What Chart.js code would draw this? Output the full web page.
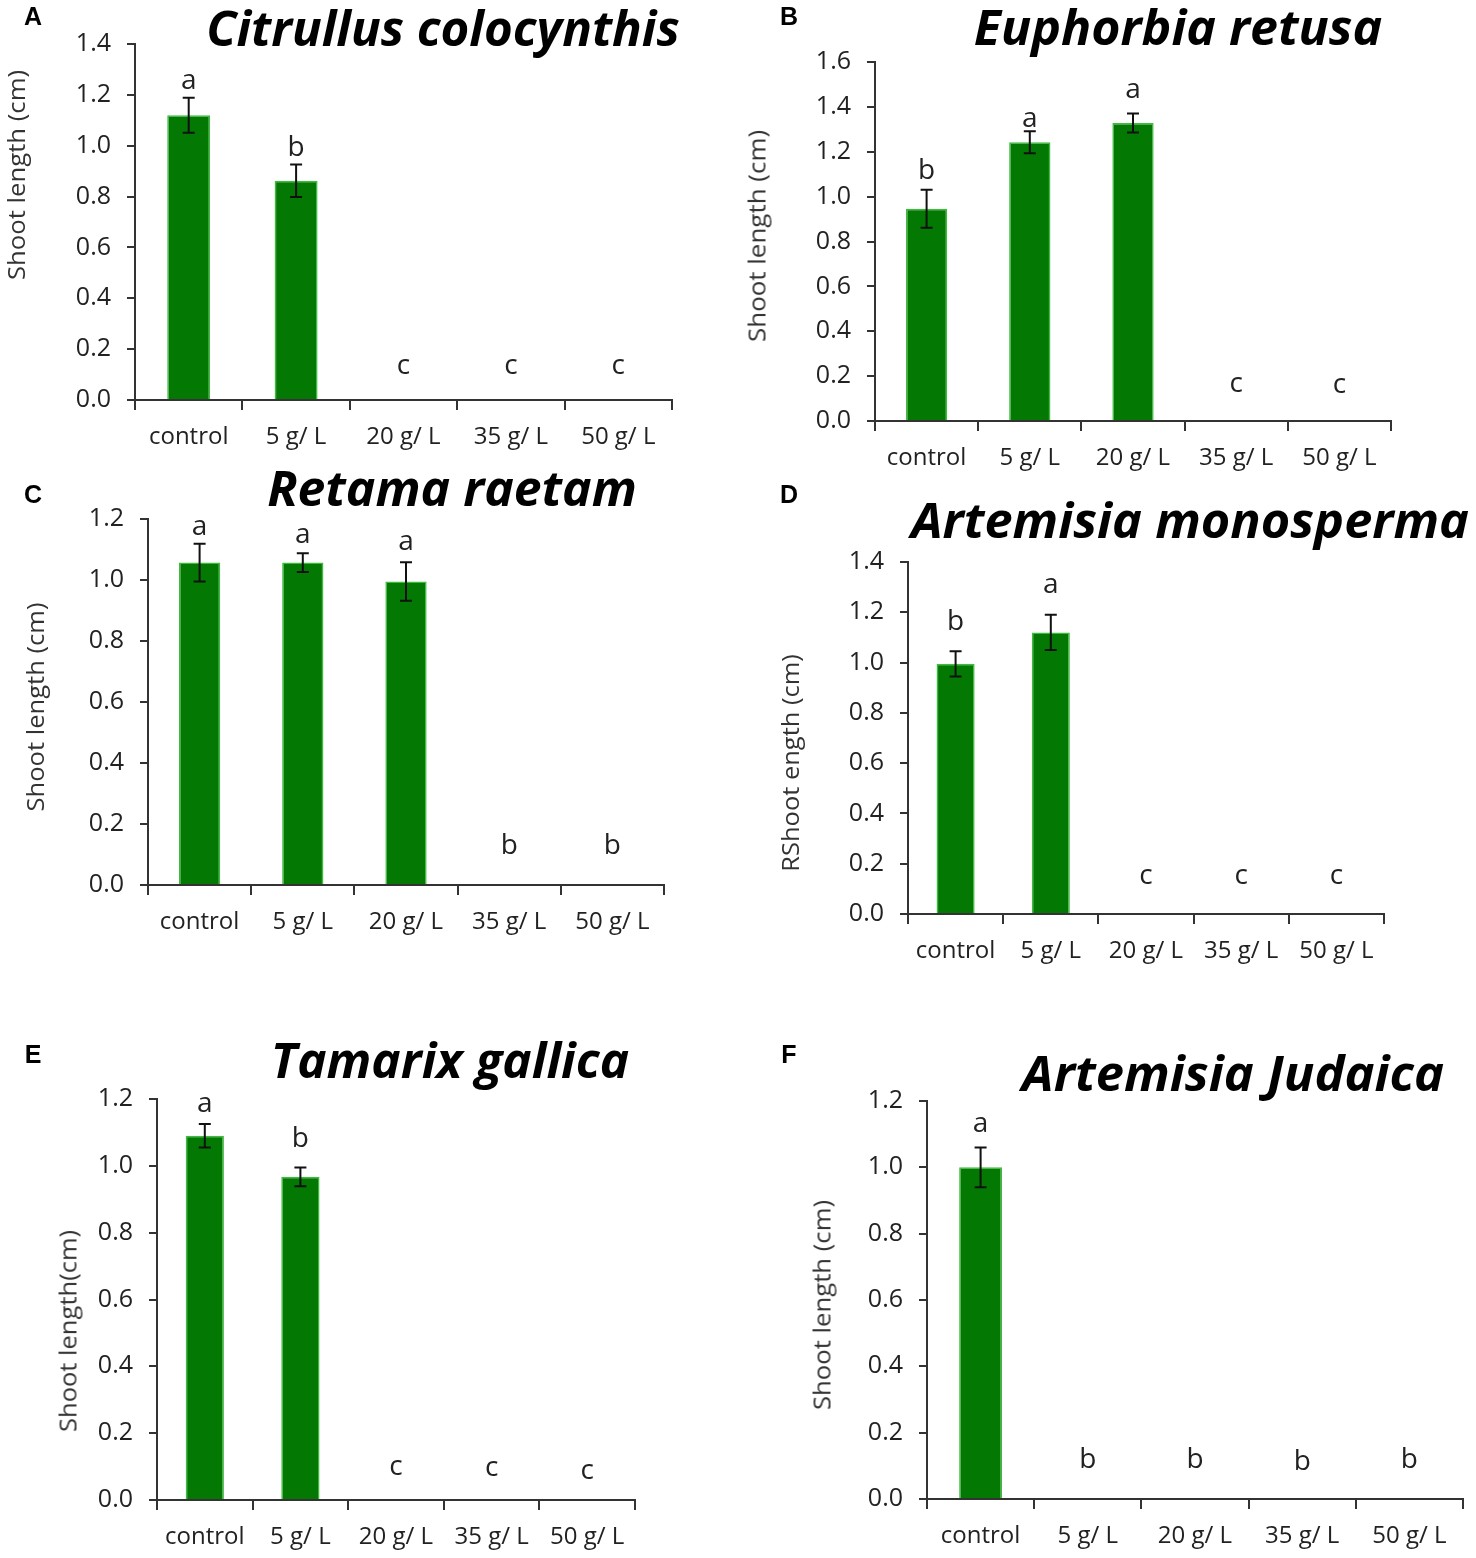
<!DOCTYPE html>
<html>
<head>
<meta charset="utf-8">
<script src="https://cdn.jsdelivr.net/npm/chart.js@4.4.1/dist/chart.umd.min.js"></script>
<style>
  body { margin: 0; background: #fff; }
  #page { position: relative; width: 1476px; height: 1558px; overflow: hidden; }
  .box { position: absolute; }
  .tag { position: absolute; font: bold 25px "Liberation Sans", Arial, sans-serif; color: #000; transform: translate(-50%, -50%); line-height: 1; }
  .species { position: absolute; font: italic 700 48px "Open Sans", "Noto Sans", sans-serif; color: #000; white-space: nowrap; line-height: 1; }
  .ytitle { position: absolute; font: 23px "Open Sans", sans-serif; color: #333; white-space: nowrap; line-height: 1; }
</style>
</head>
<body>
<div id="page"></div>
<script>
// Categories (salt concentrations)
const categories = ['control', '5 g/ L', '20 g/ L', '35 g/ L', '50 g/ L'];

// Mean shoot length (cm) and error bars, per species
const citrullusValues = [1.12, 0.862, 0, 0, 0];
const citrullusErrors = [0.069, 0.064, 0, 0, 0];
const citrullusLetters = ['a', 'b', 'c', 'c', 'c'];
const citrullusLetterY = [1.255, 0.99, 0.134, 0.134, 0.134];

const euphorbiaValues = [0.946, 1.242, 1.328, 0, 0];
const euphorbiaErrors = [0.085, 0.049, 0.042, 0, 0];
const euphorbiaLetters = ['b', 'a', 'a', 'c', 'c'];
const euphorbiaLetterY = [1.114, 1.346, 1.475, 0.165, 0.16];

const retamaValues = [1.057, 1.057, 0.995, 0, 0];
const retamaErrors = [0.062, 0.031, 0.063, 0, 0];
const retamaLetters = ['a', 'a', 'a', 'b', 'b'];
const retamaLetterY = [1.174, 1.148, 1.125, 0.128, 0.128];

const monospermaValues = [0.995, 1.12, 0, 0, 0];
const monospermaErrors = [0.05, 0.07, 0, 0, 0];
const monospermaLetters = ['b', 'a', 'c', 'c', 'c'];
const monospermaLetterY = [1.161, 1.309, 0.151, 0.151, 0.151];

const tamarixValues = [1.09, 0.967, 0, 0, 0];
const tamarixErrors = [0.035, 0.028, 0, 0, 0];
const tamarixLetters = ['a', 'b', 'c', 'c', 'c'];
const tamarixLetterY = [1.186, 1.081, 0.099, 0.095, 0.086];

const judaicaValues = [1.0, 0, 0, 0, 0];
const judaicaErrors = [0.06, 0, 0, 0, 0];
const judaicaLetters = ['a', 'b', 'b', 'b', 'b'];
const judaicaLetterY = [1.13, 0.118, 0.118, 0.112, 0.118];

const yMaxima = [1.4, 1.6, 1.2, 1.4, 1.2, 1.2];

// Layout of each panel on the page
const panels = [
  { tag: 'A', name: 'Citrullus colocynthis', yTitle: 'Shoot length (cm)',
    values: citrullusValues, errors: citrullusErrors, letters: citrullusLetters, letterY: citrullusLetterY, max: yMaxima[0],
    box: [0, 0, 738, 470], axisX: 135, x1: 672, yTop: 44, yBottom: 400,
    tagPos: [33, 16], titlePos: [443, 28], titleW: 473, yTitlePos: [16, 175], yTitleW: 210 },
  { tag: 'B', name: 'Euphorbia retusa', yTitle: 'Shoot length (cm)',
    values: euphorbiaValues, errors: euphorbiaErrors, letters: euphorbiaLetters, letterY: euphorbiaLetterY, max: yMaxima[1],
    box: [738, 0, 738, 480], axisX: 875, x1: 1391, yTop: 62, yBottom: 421,
    tagPos: [789, 16], titlePos: [1178, 27], titleW: 409, yTitlePos: [757, 236], yTitleW: 212 },
  { tag: 'C', name: 'Retama raetam', yTitle: 'Shoot length (cm)',
    values: retamaValues, errors: retamaErrors, letters: retamaLetters, letterY: retamaLetterY, max: yMaxima[2],
    box: [0, 470, 738, 510], axisX: 148, x1: 664, yTop: 519, yBottom: 885,
    tagPos: [33, 494], titlePos: [452, 488], titleW: 370, yTitlePos: [35, 707], yTitleW: 209 },
  { tag: 'D', name: 'Artemisia monosperma', yTitle: 'RShoot ength (cm)',
    values: monospermaValues, errors: monospermaErrors, letters: monospermaLetters, letterY: monospermaLetterY, max: yMaxima[3],
    box: [738, 480, 738, 500], axisX: 908, x1: 1384, yTop: 562, yBottom: 914,
    tagPos: [789, 494], titlePos: [1190, 520], titleW: 558, yTitlePos: [790, 763], yTitleW: 217 },
  { tag: 'E', name: 'Tamarix gallica', yTitle: 'Shoot length(cm)',
    values: tamarixValues, errors: tamarixErrors, letters: tamarixLetters, letterY: tamarixLetterY, max: yMaxima[4],
    box: [0, 1000, 738, 558], axisX: 157, x1: 635, yTop: 1099, yBottom: 1500,
    tagPos: [33, 1054], titlePos: [450, 1060], titleW: 358, yTitlePos: [68, 1331], yTitleW: 202 },
  { tag: 'F', name: 'Artemisia Judaica', yTitle: 'Shoot length (cm)',
    values: judaicaValues, errors: judaicaErrors, letters: judaicaLetters, letterY: judaicaLetterY, max: yMaxima[5],
    box: [738, 1000, 738, 558], axisX: 927, x1: 1463, yTop: 1101, yBottom: 1499,
    tagPos: [789, 1054], titlePos: [1233, 1073], titleW: 422, yTitlePos: [822, 1305], yTitleW: 210 }
];

const axisColor = '#333';
const xTickFont = { family: 'Open Sans', size: 24 };
const yTickFont = { family: 'Open Sans', size: 25 };

// Error bars drawn from the scales
const errorBarPlugin = {
  id: 'errorBars',
  afterDatasetsDraw(chart, args, opts) {
    const { ctx, scales: { x, y } } = chart;
    const vals = chart.data.datasets[0].data;
    ctx.save();
    ctx.strokeStyle = '#111';
    ctx.lineWidth = 2;
    vals.forEach((v, i) => {
      const e = opts.errors[i];
      if (!e) return;
      const px = x.getPixelForValue(i);
      const top = y.getPixelForValue(v + e);
      const bot = y.getPixelForValue(v - e);
      ctx.beginPath();
      ctx.moveTo(px, top); ctx.lineTo(px, bot);
      ctx.moveTo(px - 6, top); ctx.lineTo(px + 6, top);
      ctx.moveTo(px - 6, bot); ctx.lineTo(px + 6, bot);
      ctx.stroke();
    });
    ctx.restore();
  }
};

// Significance letters above the bars
const letterPlugin = {
  id: 'sigLetters',
  afterDraw(chart, args, opts) {
    const { ctx, scales: { x, y } } = chart;
    ctx.save();
    ctx.fillStyle = '#222';
    ctx.font = '28px "Open Sans", sans-serif';
    ctx.textAlign = 'center';
    ctx.textBaseline = 'middle';
    opts.letters.forEach((l, i) => {
      ctx.fillText(l, x.getPixelForValue(i), y.getPixelForValue(opts.letterY[i]));
    });
    ctx.restore();
  }
};

function fitText(el, target, rotate) {
  const w = el.offsetWidth;
  const s = target / w;
  el.style.transform = 'translate(-50%, -50%)' + (rotate ? ' rotate(-90deg)' : '') + ' scaleX(' + s + ')';
}

const page = document.getElementById('page');

panels.forEach(p => {
  const [L, T, W, H] = p.box;
  const box = document.createElement('div');
  box.className = 'box';
  box.style.left = L + 'px';
  box.style.top = T + 'px';
  box.style.width = W + 'px';
  box.style.height = H + 'px';
  const canvas = document.createElement('canvas');
  box.appendChild(canvas);
  page.appendChild(box);

  const yw = p.axisX - L;
  const xh = T + H - p.yBottom;

  new Chart(canvas, {
    type: 'bar',
    data: {
      labels: categories,
      datasets: [{
        data: p.values,
        backgroundColor: '#037803',
        borderColor: '#3dbb3d',
        borderWidth: 1.5,
        barPercentage: 1,
        categoryPercentage: 0.4
      }]
    },
    options: {
      responsive: true,
      maintainAspectRatio: false,
      animation: false,
      layout: { padding: { left: 0, top: p.yTop - T, right: L + W - p.x1, bottom: 0 } },
      plugins: {
        legend: { display: false },
        tooltip: { enabled: false },
        errorBars: { errors: p.errors },
        sigLetters: { letters: p.letters, letterY: p.letterY }
      },
      scales: {
        x: {
          grid: { offset: true, drawOnChartArea: false, drawTicks: true, tickLength: 10, color: axisColor, lineWidth: 2 },
          border: { display: true, color: axisColor, width: 2 },
          ticks: { color: '#222', font: xTickFont, padding: 13, maxRotation: 0, autoSkip: false },
          afterFit(scale) { scale.height = xh; }
        },
        y: {
          min: 0,
          max: p.max,
          grid: { drawOnChartArea: false, drawTicks: true, tickLength: 8, color: axisColor, lineWidth: 2 },
          border: { display: true, color: axisColor, width: 2 },
          ticks: { stepSize: 0.2, color: '#222', font: yTickFont, padding: 16, callback: v => v.toFixed(1) },
          afterFit(scale) { scale.width = yw; }
        }
      }
    },
    plugins: [errorBarPlugin, letterPlugin]
  });

  const tag = document.createElement('div');
  tag.className = 'tag';
  tag.textContent = p.tag;
  tag.style.left = p.tagPos[0] + 'px';
  tag.style.top = p.tagPos[1] + 'px';
  page.appendChild(tag);

  const title = document.createElement('div');
  title.className = 'species';
  title.textContent = p.name;
  title.style.left = p.titlePos[0] + 'px';
  title.style.top = p.titlePos[1] + 'px';
  page.appendChild(title);
  fitText(title, p.titleW, false);

  const yt = document.createElement('div');
  yt.className = 'ytitle';
  yt.textContent = p.yTitle;
  yt.style.left = p.yTitlePos[0] + 'px';
  yt.style.top = p.yTitlePos[1] + 'px';
  page.appendChild(yt);
  fitText(yt, p.yTitleW, true);
});
</script>
</body>
</html>
